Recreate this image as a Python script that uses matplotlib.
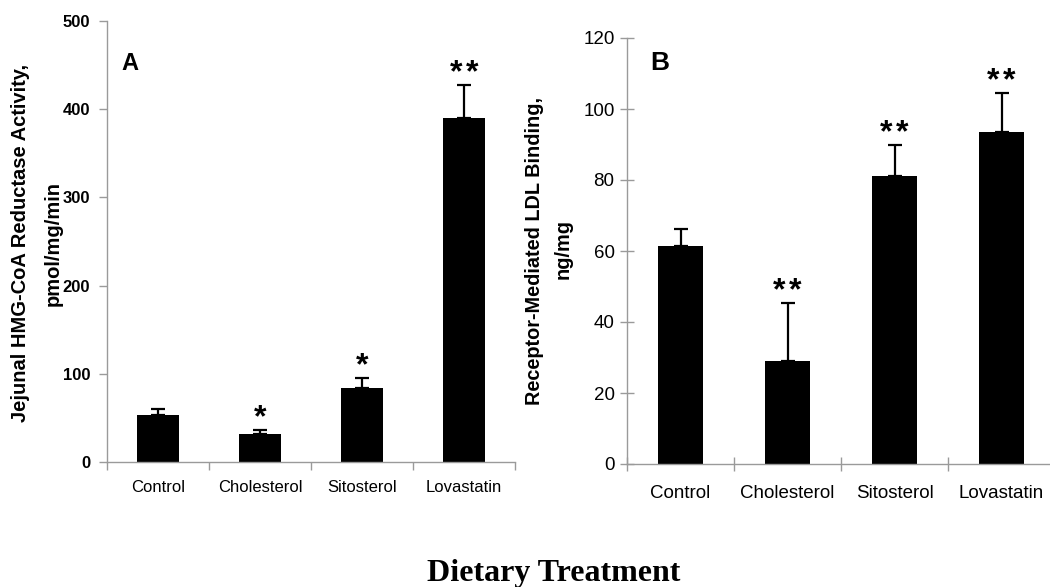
import numpy as np
import matplotlib
matplotlib.use("Agg")
import matplotlib.pyplot as plt
from matplotlib.ticker import FixedLocator

# data
treatments = ["Control", "Cholesterol", "Sitosterol", "Lovastatin"]

hmg_mean = [53, 32, 84, 390]
hmg_err = [7, 4, 11, 37]
hmg_stars = [0, 1, 1, 2]

ldl_mean = [61.5, 29, 81, 93.5]
ldl_err = [4.7, 16.3, 8.8, 11]
ldl_stars = [0, 2, 2, 2]

W, H = 1050, 587
SANS = "Liberation Sans"
SPINE = "#9a9a9a"


def px(x0, y0, w, h):
    # pixel box (top-left origin) -> figure fraction
    return [x0 / W, (H - y0 - h) / H, w / W, h / H]


def drawPanel(ax, means, errs, stars, ymax, ystep, tickKw, ytickWeight, xtickSize, xpad, tickdir):
    x = np.arange(len(treatments))
    ax.bar(x, means, width=0.42, color="black", zorder=2)
    ax.errorbar(x, means, yerr=[np.zeros(len(errs)), errs], fmt="none",
                ecolor="black", elinewidth=1.6, capsize=5, capthick=1.6, zorder=3)
    for xi, m, e, n in zip(x, means, errs, stars):
        # asterisks drawn one by one so the gap between them matches
        for k in range(n):
            dx = (k - (n - 1) / 2) * 11.5
            ax.annotate("*", (xi, m + e), xytext=(dx, 8.5), textcoords="offset points",
                        ha="center", va="center", fontsize=23, fontweight="bold",
                        family=SANS)

    ax.set_xlim(-0.5, len(treatments) - 0.5)
    ax.set_ylim(0, ymax)
    for sp in ["top", "right"]:
        ax.spines[sp].set_visible(False)
    for sp in ["left", "bottom"]:
        ax.spines[sp].set_color(SPINE)
        ax.spines[sp].set_linewidth(1.0)

    ax.set_yticks(np.arange(0, ymax + 1, ystep))
    ax.tick_params(axis="y", colors=SPINE, labelcolor="black", width=1.0, **tickKw)
    for lab in ax.get_yticklabels():
        lab.set_fontweight(ytickWeight)
        lab.set_family(SANS)

    ax.set_xticks(x)
    ax.set_xticklabels(treatments, fontsize=xtickSize, family=SANS)
    ax.tick_params(axis="x", which="major", length=0, pad=xpad)
    ax.xaxis.set_minor_locator(FixedLocator(np.arange(-0.5, len(treatments), 1.0)))
    ax.tick_params(axis="x", which="minor", length=tickKw["length"], width=1.0,
                   color=SPINE, direction=tickdir)


fig = plt.figure(figsize=(W / 100, H / 100), dpi=100)

axA = fig.add_axes(px(107, 21, 408, 441))
drawPanel(axA, hmg_mean, hmg_err, hmg_stars, 500, 100,
          dict(length=6, direction="out", labelsize=12, pad=6),
          "bold", 12, 13, "out")
axA.text(-0.355, 444, "A", fontsize=17, fontweight="bold", family=SANS,
         ha="left", va="baseline")

axB = fig.add_axes(px(627, 38, 428, 426))
drawPanel(axB, ldl_mean, ldl_err, ldl_stars, 120, 20,
          dict(length=10, direction="inout", labelsize=13.5, pad=4),
          "normal", 13.5, 15, "inout")
axB.text(-0.285, 111, "B", fontsize=19, fontweight="bold", family=SANS,
         ha="left", va="baseline")

# y axis titles, two lines each
fig.text(21 / W, 1 - 243 / H, "Jejunal HMG-CoA Reductase Activity,", rotation=90,
         ha="center", va="center", fontsize=14.5, fontweight="bold", family=SANS)
fig.text(53 / W, 1 - 243 / H, "pmol/mg/min", rotation=90,
         ha="center", va="center", fontsize=14.5, fontweight="bold", family=SANS)
fig.text(534 / W, 1 - 251 / H, "Receptor-Mediated LDL Binding,", rotation=90,
         ha="center", va="center", fontsize=14.3, fontweight="bold", family=SANS)
fig.text(563 / W, 1 - 249 / H, "ng/mg", rotation=90,
         ha="center", va="center", fontsize=14.3, fontweight="bold", family=SANS)

fig.text(554 / W, 1 - 581 / H, "Dietary Treatment", ha="center", va="baseline",
         fontsize=23, fontweight="bold", family="Liberation Serif")

fig.savefig("out.png", dpi=100)
